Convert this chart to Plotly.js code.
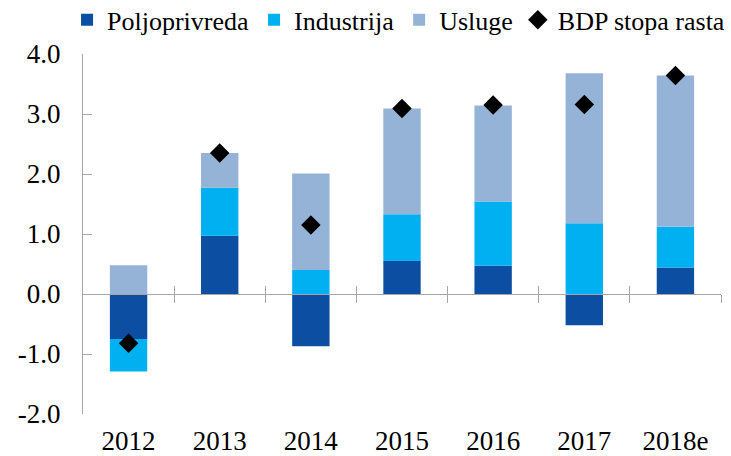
<!DOCTYPE html>
<html>
<head>
<meta charset="utf-8">
<script src="https://cdn.plot.ly/plotly-3.0.1.min.js"></script>
<style>html,body{margin:0;padding:0;background:#fff;}#chart{width:731px;height:456px;}</style>
</head>
<body>
<div id="chart"></div>
<script>
const years = ['2012', '2013', '2014', '2015', '2016', '2017', '2018e'];
const poljoprivreda = [-0.75, 0.97, -0.87, 0.55, 0.47, -0.52, 0.44];
const industrija = [-0.54, 0.80, 0.40, 0.78, 1.07, 1.18, 0.68];
const usluge = [0.48, 0.58, 1.61, 1.76, 1.60, 2.50, 2.52];
const bdp = [-0.82, 2.35, 1.15, 3.09, 3.15, 3.16, 3.64];
const yTickVals = [-2, -1, 0, 1, 2, 3, 4];
const yTickText = ['-2.0', '-1.0', '0.0', '1.0', '2.0', '3.0', '4.0'];
const boundaryTicks = [0.5, 1.5, 2.5, 3.5, 4.5, 5.5, 6.5];

const FONT = '"Liberation Serif", "Times New Roman", serif';
const AXIS_COLOR = '#a6a6a6';

const traces = [
  {type: 'bar', name: 'Poljoprivreda', x: years, y: poljoprivreda, marker: {color: '#0b4ea2'}},
  {type: 'bar', name: 'Industrija', x: years, y: industrija, marker: {color: '#00b0f0'}},
  {type: 'bar', name: 'Usluge', x: years, y: usluge, marker: {color: '#95b3d7'}},
  {type: 'scatter', mode: 'markers', name: 'BDP stopa rasta', x: years, y: bdp,
   marker: {symbol: 'diamond', size: 15, color: '#000000'}},
  // invisible helpers so the zero-line axes (with crossing boundary ticks) get drawn
  {type: 'scatter', mode: 'markers', xaxis: 'x2', yaxis: 'y', x: boundaryTicks,
   y: boundaryTicks.map(() => 0), marker: {opacity: 0}, showlegend: false, hoverinfo: 'skip'},
  {type: 'scatter', mode: 'markers', xaxis: 'x3', yaxis: 'y', x: boundaryTicks,
   y: boundaryTicks.map(() => 0), marker: {opacity: 0}, showlegend: false, hoverinfo: 'skip'}
];

const zeroAxis = {
  overlaying: 'x', anchor: 'free', position: 2 / 6, type: 'linear',
  range: [-0.5, 6.5], tickmode: 'array', tickvals: boundaryTicks,
  showticklabels: false, ticklen: 8, tickwidth: 1, tickcolor: AXIS_COLOR,
  showline: true, linecolor: AXIS_COLOR, linewidth: 1,
  showgrid: false, zeroline: false, fixedrange: true
};

const layout = {
  width: 731, height: 456,
  margin: {l: 83, r: 10, t: 54, b: 42, autoexpand: false},
  paper_bgcolor: '#ffffff', plot_bgcolor: '#ffffff',
  font: {family: FONT, size: 27, color: '#000000'},
  barmode: 'relative', bargap: 0.59,
  showlegend: true,
  legend: {orientation: 'h', x: -0.025, xanchor: 'left', y: 1.16, yanchor: 'top',
           font: {family: FONT, size: 26, color: '#000000'}, itemclick: false,
           itemwidth: 30, traceorder: 'normal', bgcolor: 'rgba(0,0,0,0)'},
  xaxis: {type: 'category', range: [-0.5, 6.5], showline: false, ticks: '',
          showgrid: false, zeroline: false, tickfont: {family: FONT, size: 27},
          ticklabelstandoff: 8},
  xaxis2: Object.assign({}, zeroAxis, {ticks: 'outside'}),
  xaxis3: Object.assign({}, zeroAxis, {ticks: 'inside'}),
  yaxis: {range: [-2, 4], tickmode: 'array', tickvals: yTickVals, ticktext: yTickText,
          ticks: 'inside', ticklen: 9, tickcolor: AXIS_COLOR, showline: true,
          linecolor: AXIS_COLOR, linewidth: 1, showgrid: false, zeroline: false,
          tickfont: {family: FONT, size: 27}, ticklabelstandoff: 16}
};

Plotly.newPlot('chart', traces, layout, {displayModeBar: false, staticPlot: true});
</script>
</body>
</html>
